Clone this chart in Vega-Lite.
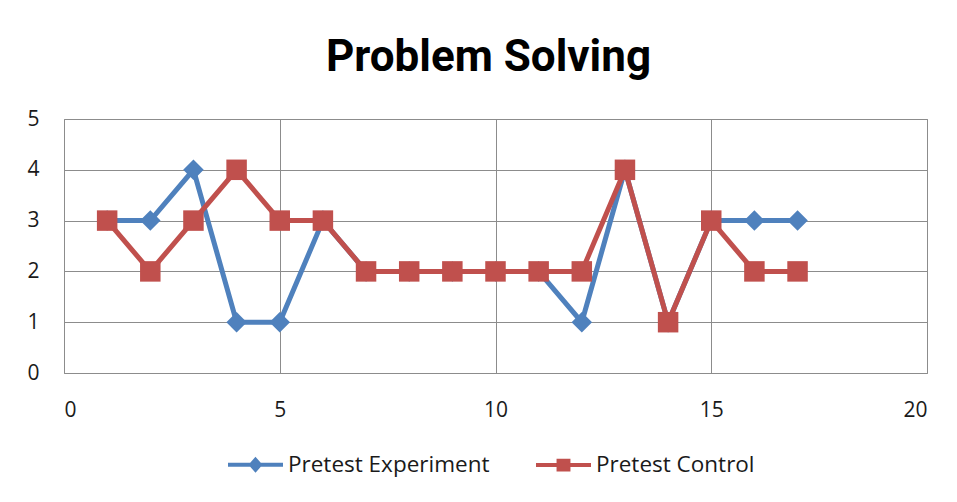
{
  "$schema": "https://vega.github.io/schema/vega-lite/v6.json",
  "autosize": "none",
  "width": 863,
  "height": 254,
  "padding": {"left": 64, "top": 119, "right": 30, "bottom": 129},
  "background": "white",
  "title": {
    "text": "Problem Solving",
    "font": "Roboto",
    "fontSize": 44,
    "fontWeight": "bold",
    "color": "#000000",
    "anchor": "middle",
    "frame": "group",
    "baseline": "alphabetic",
    "offset": -7,
    "dx": -7
  },
  "config": {
    "view": {"stroke": "#8c8c8c", "strokeWidth": 1},
    "axis": {
      "labelFont": "Open Sans",
      "labelFontSize": 21,
      "labelColor": "#1a1a1a",
      "ticks": false,
      "domain": false,
      "gridColor": "#8c8c8c",
      "gridOpacity": 1,
      "gridWidth": 1,
      "title": null
    }
  },
  "data": {
    "values": [
      {"x": 1, "value": 3, "series": "Pretest Experiment"},
      {"x": 2, "value": 3, "series": "Pretest Experiment"},
      {"x": 3, "value": 4, "series": "Pretest Experiment"},
      {"x": 4, "value": 1, "series": "Pretest Experiment"},
      {"x": 5, "value": 1, "series": "Pretest Experiment"},
      {"x": 6, "value": 3, "series": "Pretest Experiment"},
      {"x": 7, "value": 2, "series": "Pretest Experiment"},
      {"x": 8, "value": 2, "series": "Pretest Experiment"},
      {"x": 9, "value": 2, "series": "Pretest Experiment"},
      {"x": 10, "value": 2, "series": "Pretest Experiment"},
      {"x": 11, "value": 2, "series": "Pretest Experiment"},
      {"x": 12, "value": 1, "series": "Pretest Experiment"},
      {"x": 13, "value": 4, "series": "Pretest Experiment"},
      {"x": 14, "value": 1, "series": "Pretest Experiment"},
      {"x": 15, "value": 3, "series": "Pretest Experiment"},
      {"x": 16, "value": 3, "series": "Pretest Experiment"},
      {"x": 17, "value": 3, "series": "Pretest Experiment"},
      {"x": 1, "value": 3, "series": "Pretest Control"},
      {"x": 2, "value": 2, "series": "Pretest Control"},
      {"x": 3, "value": 3, "series": "Pretest Control"},
      {"x": 4, "value": 4, "series": "Pretest Control"},
      {"x": 5, "value": 3, "series": "Pretest Control"},
      {"x": 6, "value": 3, "series": "Pretest Control"},
      {"x": 7, "value": 2, "series": "Pretest Control"},
      {"x": 8, "value": 2, "series": "Pretest Control"},
      {"x": 9, "value": 2, "series": "Pretest Control"},
      {"x": 10, "value": 2, "series": "Pretest Control"},
      {"x": 11, "value": 2, "series": "Pretest Control"},
      {"x": 12, "value": 2, "series": "Pretest Control"},
      {"x": 13, "value": 4, "series": "Pretest Control"},
      {"x": 14, "value": 1, "series": "Pretest Control"},
      {"x": 15, "value": 3, "series": "Pretest Control"},
      {"x": 16, "value": 2, "series": "Pretest Control"},
      {"x": 17, "value": 2, "series": "Pretest Control"}
    ]
  },
  "encoding": {
    "x": {
      "field": "x",
      "type": "quantitative",
      "scale": {"domain": [0, 20], "nice": false},
      "axis": {"values": [0, 5, 10, 15, 20], "labelPadding": 26, "grid": true}
    },
    "y": {
      "field": "value",
      "type": "quantitative",
      "scale": {"domain": [0, 5], "nice": false},
      "axis": {"values": [0, 1, 2, 3, 4, 5], "labelPadding": 25, "grid": true}
    },
    "color": {
      "field": "series",
      "type": "nominal",
      "scale": {"domain": ["Pretest Experiment", "Pretest Control"], "range": ["#4F81BD", "#C0504D"]},
      "legend": {
        "title": null,
        "orient": "none",
        "legendX": 162,
        "legendY": 316,
        "direction": "horizontal",
        "labelFont": "Open Sans",
        "labelFontSize": 22.5,
        "labelColor": "#1a1a1a",
        "labelLimit": 400,
        "symbolSize": 3025,
        "symbolStrokeWidth": 4,
        "symbolType": "M-1,0L1,0M0,-0.17L0.17,0L0,0.17L-0.17,0Z",
        "labelOffset": 3,
        "columnPadding": 38,
        "encode": {
          "symbols": {
            "update": {
              "shape": {"signal": "datum.value === 'Pretest Experiment' ? 'M-1,0L1,0M0,-0.18L0.16,0L0,0.18L-0.16,0Z' : 'M-1,0L1,0M-0.18,-0.16L0.18,-0.16L0.18,0.16L-0.18,0.16Z'"},
              "fill": {"signal": "datum.value === 'Pretest Experiment' ? '#4F81BD' : '#C0504D'"},
              "stroke": {"signal": "datum.value === 'Pretest Experiment' ? '#4F81BD' : '#C0504D'"},
              "strokeWidth": {"value": 4},
              "opacity": {"value": 1}
            }
          }
        }
      }
    }
  },
  "layer": [
    {
      "transform": [{"filter": "datum.series === 'Pretest Experiment'"}],
      "mark": {"type": "line", "strokeWidth": 5}
    },
    {
      "transform": [{"filter": "datum.series === 'Pretest Experiment'"}],
      "mark": {"type": "point", "shape": "diamond", "filled": true, "size": 420, "opacity": 1}
    },
    {
      "transform": [{"filter": "datum.series === 'Pretest Control'"}],
      "mark": {"type": "line", "strokeWidth": 5}
    },
    {
      "transform": [{"filter": "datum.series === 'Pretest Control'"}],
      "mark": {"type": "point", "shape": "square", "filled": true, "size": 420, "opacity": 1}
    }
  ]
}
